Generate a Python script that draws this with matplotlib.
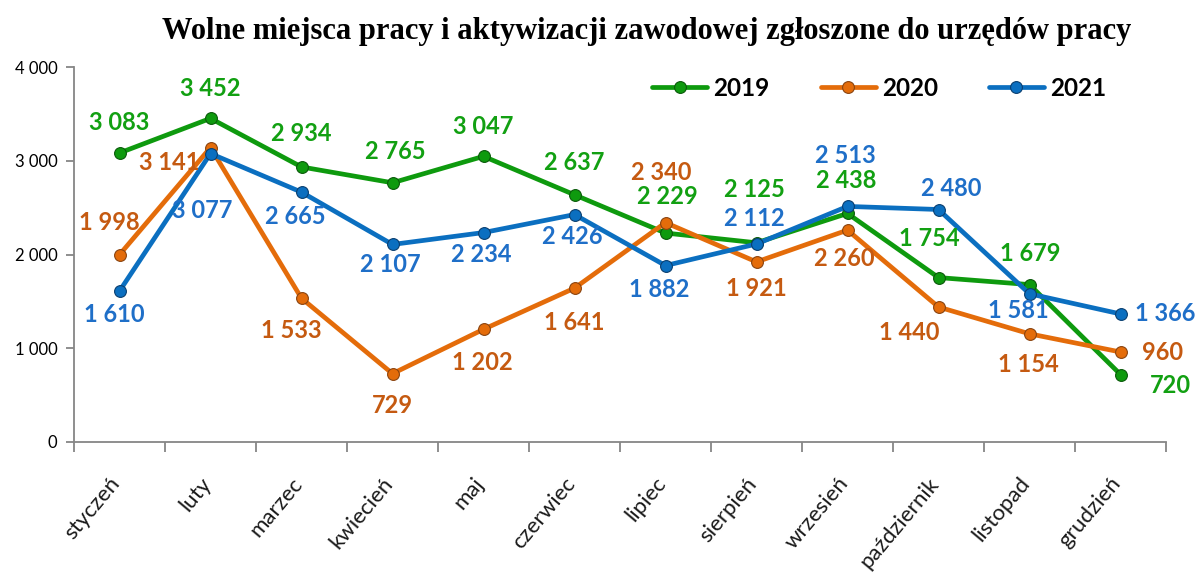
import matplotlib
matplotlib.use("Agg")
import matplotlib.pyplot as plt
from matplotlib.ticker import FuncFormatter, FixedLocator

# ── Data ──────────────────────────────────────────────────────────────
months = ['styczeń', 'luty', 'marzec', 'kwiecień', 'maj', 'czerwiec',
          'lipiec', 'sierpień', 'wrzesień', 'październik', 'listopad', 'grudzień']
v2019 = [3083, 3452, 2934, 2765, 3047, 2637, 2229, 2125, 2438, 1754, 1679, 720]
v2020 = [1998, 3141, 1533, 729, 1202, 1641, 2340, 1921, 2260, 1440, 1154, 960]
v2021 = [1610, 3077, 2665, 2107, 2234, 2426, 1882, 2112, 2513, 2480, 1581, 1366]

# ── Style ─────────────────────────────────────────────────────────────
G_LINE, G_TXT = '#0E9A0E', '#12A012'
O_LINE, O_TXT = '#E46C0A', '#C55A11'
B_LINE, B_TXT = '#0B6FC0', '#1F6FC8'
AXC = '#868686'
LBL_FONT = ['Lato', 'DejaVu Sans']

# label offsets in pixels (dx, dy), dy positive = up
off2019 = [(0, 30), (0, 30), (0, 33), (3, 31), (0, 30), (0, 32),
           (2, 37), (-2, 53), (-1, 33), (-9, 39), (1, 31), (50, -11)]
off2020 = [(-10, 32), (-41, -15), (-10, -32), (0, -32), (-1, -33), (0, -34),
           (-4, 50), (0, -27), (-3, -28), (-29, -26), (-1, -31), (42, -1)]
off2021 = [(-5, -23), (-8, -57), (-6, -24), (-2, -20), (-2, -22), (-2, -22),
           (-6, -24), (-2, 26), (-2, 51), (13, 21), (-11, -17), (45, 0)]

fig = plt.figure(figsize=(11.97, 5.77), dpi=100)
ax = fig.add_axes([74/1197, 1 - 442/577, (1166 - 74)/1197, (442 - 67)/577])

x = list(range(len(months)))
series = [('2019', v2019, G_LINE, G_TXT, '#0A5A0A', off2019),
          ('2020', v2020, O_LINE, O_TXT, '#8A4410', off2020),
          ('2021', v2021, B_LINE, B_TXT, '#0A3F70', off2021)]

def fmt(v):
    return f'{v:,}'.replace(',', '\u00a0')

for name, vals, lc, tc, ec, offs in series:
    ax.plot(x, vals, color=lc, lw=3.4, marker='o', ms=8.5,
            mfc=lc, mec=ec, mew=0.8, label=name, zorder=3,
            solid_capstyle='round')
    for xi, v, (dx, dy) in zip(x, vals, offs):
        ax.annotate(fmt(v), (xi, v), xytext=(dx, dy), textcoords='offset pixels',
                    ha='center', va='center', fontsize=17, fontweight='bold',
                    color=tc, family=LBL_FONT, zorder=5)

ax.set_xlim(-0.5, len(months) - 0.5)
ax.set_ylim(0, 4000)

for s in ['top', 'right']:
    ax.spines[s].set_visible(False)
for s in ['left', 'bottom']:
    ax.spines[s].set_color(AXC)
    ax.spines[s].set_linewidth(1.3)

ax.yaxis.set_major_locator(FixedLocator([0, 1000, 2000, 3000, 4000]))
ax.yaxis.set_major_formatter(FuncFormatter(lambda v, p: fmt(int(v))))
ax.tick_params(axis='y', length=6, color=AXC, width=1.3, labelsize=12, pad=6)
for t in ax.get_yticklabels():
    t.set_family(LBL_FONT)

ax.set_xticks([i - 0.5 for i in range(len(months) + 1)])
ax.set_xticklabels([])
ax.tick_params(axis='x', length=7, color=AXC, width=1.3)
for i, m in enumerate(months):
    ax.annotate(m, (i, 0), xycoords=('data', 'axes fraction'),
                xytext=(-3, -38), textcoords='offset pixels',
                rotation=50, rotation_mode='anchor',
                ha='right', va='center', fontsize=16, family=LBL_FONT,
                color='#1A1A1A', annotation_clip=False)

leg = ax.legend(loc='center right', bbox_to_anchor=(0.965, 0.944), ncol=3,
                frameon=False, handlelength=2.26, columnspacing=2.1,
                handletextpad=0.25,
                prop={'family': LBL_FONT, 'weight': 'bold', 'size': 17.5})

fig.text(647/1197, 1 - 31/577,
         'Wolne miejsca pracy i aktywizacji zawodowej zgłoszone do urzędów pracy',
         ha='center', va='center', fontsize=22, fontweight='bold',
         family=['Liberation Serif', 'DejaVu Serif'], color='black')

fig.savefig('out.png', dpi=100)
